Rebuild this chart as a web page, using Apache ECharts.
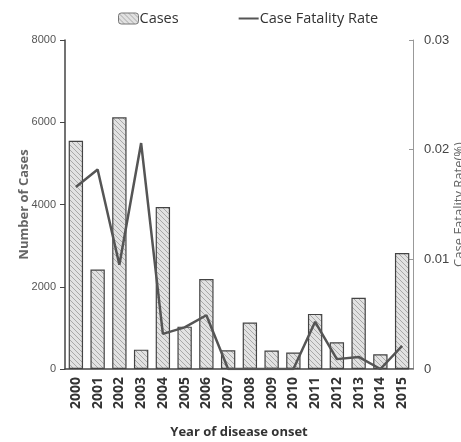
<!DOCTYPE html>
<html>
<head>
<meta charset="utf-8">
<script src="https://cdn.jsdelivr.net/npm/echarts@6/dist/echarts.min.js"></script>
<style>
  html, body { margin: 0; padding: 0; background: #fff; }
  #chart { width: 461px; height: 442px; }
</style>
</head>
<body>
<div id="chart"></div>
<script>
// data
const years = ['2000', '2001', '2002', '2003', '2004', '2005', '2006', '2007',
  '2008', '2009', '2010', '2011', '2012', '2013', '2014', '2015'];
const cases = [5550, 2420, 6120, 470, 3940, 1030, 2190, 455,
  1130, 450, 400, 1340, 650, 1730, 360, 2820];
const fatalityRate = [0.0166, 0.0182, 0.0095, 0.0206, 0.0032, 0.0038, 0.0049, 0,
  0, 0, 0, 0.0043, 0.0009, 0.0011, 0, 0.0021];

// hatched fill for the bars
const makeHatch = () => {
  const c = document.createElement('canvas');
  c.width = 5;
  c.height = 5;
  const ctx = c.getContext('2d');
  ctx.fillStyle = '#e2e2e2';
  ctx.fillRect(0, 0, 5, 5);
  ctx.strokeStyle = '#a8a8a8';
  ctx.lineWidth = 1;
  ctx.beginPath();
  ctx.moveTo(0, 0); ctx.lineTo(5, 5);
  ctx.moveTo(-3, 2); ctx.lineTo(2, 7);
  ctx.moveTo(2, -3); ctx.lineTo(7, 2);
  ctx.stroke();
  return c;
};
const hatch = { image: makeHatch(), repeat: 'repeat' };

const chart = echarts.init(document.getElementById('chart'));

const option = {
  animation: false,
  backgroundColor: '#fff',
  grid: { left: 65, right: 48, top: 40, bottom: 73, outerBoundsMode: 'none', containLabel: false },
  legend: {
    top: 6,
    left: 113,
    itemGap: 60,
    itemWidth: 20,
    itemHeight: 11,
    textStyle: { fontFamily: 'Open Sans', fontSize: 14.5, color: '#333', padding: [0, 0, 0, -4] },
    data: [
      { name: 'Cases', itemStyle: { color: hatch, borderColor: '#777', borderWidth: 1 } },
      { name: 'Case Fatality Rate', icon: 'path://M0,0 H20 V2 H0 Z', itemStyle: { color: '#555' } }
    ]
  },
  xAxis: {
    type: 'category',
    data: years,
    name: 'Year of disease onset',
    nameLocation: 'middle',
    nameGap: 57,
    nameTextStyle: { fontFamily: 'Open Sans', fontWeight: 'bold', fontSize: 13, color: '#333' },
    axisLine: { lineStyle: { color: '#444', width: 1.5 } },
    axisTick: { lineStyle: { color: '#444' }, length: 5 },
    axisLabel: {
      rotate: 90,
      interval: 0,
      margin: 8,
      fontFamily: 'Open Sans',
      fontWeight: 'bold',
      fontSize: 14,
      color: '#333'
    }
  },
  yAxis: [
    {
      type: 'value',
      min: 0,
      max: 8000,
      interval: 2000,
      name: 'Number of Cases',
      nameLocation: 'middle',
      nameGap: 34,
      nameMoveOverlap: false,
      nameTextStyle: { fontFamily: 'Open Sans', fontWeight: 'bold', fontSize: 13, color: '#666' },
      axisLine: { show: true, lineStyle: { color: '#444', width: 1.5 } },
      axisTick: { show: true, length: 5, lineStyle: { color: '#444' } },
      axisLabel: {
        fontFamily: 'Liberation Sans',
        fontSize: 11,
        color: '#555',
        margin: 9,
        formatter: (v) => String(v)
      },
      splitLine: { show: false }
    },
    {
      type: 'value',
      min: 0,
      max: 0.03,
      interval: 0.01,
      name: 'Case Fatality Rate(%)',
      nameLocation: 'middle',
      nameGap: 40,
      nameMoveOverlap: false,
      nameRotate: 90,
      nameTextStyle: { fontFamily: 'Open Sans', fontSize: 13, color: '#666' },
      axisLine: { show: true, lineStyle: { color: '#999', width: 1 } },
      axisTick: { show: true, inside: true, length: 4, lineStyle: { color: '#999' } },
      axisLabel: {
        fontFamily: 'Liberation Sans',
        fontSize: 13,
        color: '#444',
        margin: 11,
        formatter: (v) => (v === 0 ? '0' : v.toFixed(2))
      },
      splitLine: { show: false }
    }
  ],
  series: [
    {
      name: 'Cases',
      type: 'bar',
      data: cases,
      barCategoryGap: '34%',
      itemStyle: { color: hatch, borderColor: '#444', borderWidth: 1.2 }
    },
    {
      name: 'Case Fatality Rate',
      type: 'line',
      yAxisIndex: 1,
      data: fatalityRate,
      symbol: 'none',
      lineStyle: { color: '#555', width: 2.5 },
      itemStyle: { color: '#555' }
    }
  ]
};

chart.setOption(option);
</script>
</body>
</html>
